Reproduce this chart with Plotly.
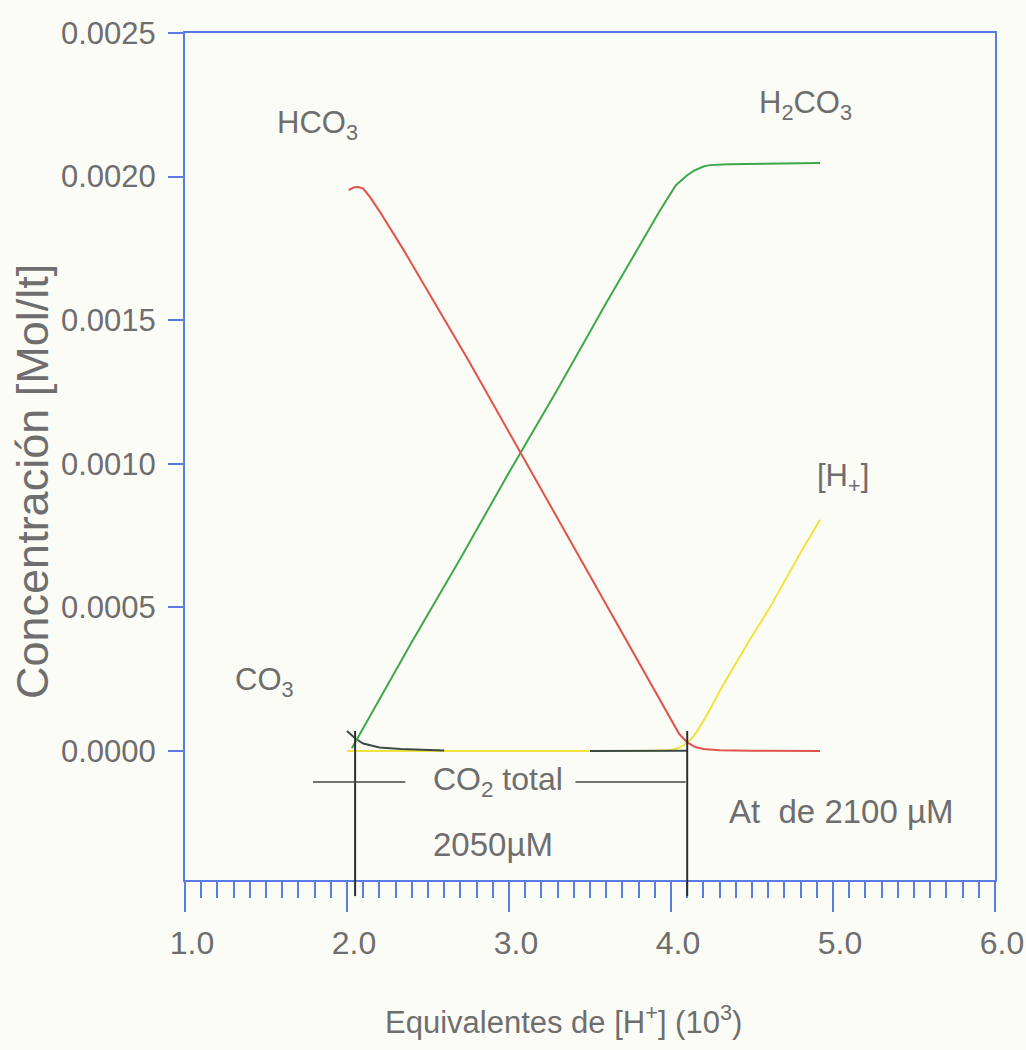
import plotly.graph_objects as go

# ---- data ----
hco3_x = [2.01, 2.04, 2.07, 2.10, 2.14, 2.20, 2.35, 2.50, 2.75, 3.00, 3.25, 3.50, 3.75, 3.95, 4.05, 4.10, 4.15, 4.20, 4.30, 4.50, 4.92]
hco3_y = [0.001953, 0.001962, 0.001964, 0.001958, 0.00193, 0.00188, 0.001744, 0.0016, 0.00136, 0.00111, 0.00086, 0.00061, 0.00036, 0.00016, 0.00006, 0.00003, 0.000014, 0.000007, 0.000003, 0.000001, 0.0]

h2co3_x = [2.03, 2.06, 2.15, 2.40, 2.70, 3.00, 3.30, 3.60, 3.93, 4.03, 4.10, 4.14, 4.20, 4.24, 4.35, 4.60, 4.92]
h2co3_y = [0.00001, 0.00004, 0.00013, 0.00038, 0.00067, 0.00097, 0.00126, 0.00156, 0.00188, 0.00197, 0.002005, 0.00202, 0.002035, 0.00204, 0.002043, 0.002045, 0.002047]

hplus_x = [2.00, 2.50, 3.00, 3.50, 4.00, 4.05, 4.10, 4.15, 4.20, 4.25, 4.30, 4.40, 4.50, 4.60, 4.70, 4.80, 4.92]
hplus_y = [0.0, 0.0, 0.0, 0.0, 0.000004, 0.000012, 0.00003, 0.00006, 0.000105, 0.000155, 0.000208, 0.000305, 0.0004, 0.00049, 0.00059, 0.00069, 0.000805]

co3_x = [2.00, 2.03, 2.055, 2.10, 2.20, 2.33, 2.45, 2.60, None, 3.50, 3.80, 4.10]
co3_y = [0.00007, 0.000055, 0.000042, 0.000026, 0.000012, 0.000007, 0.000004, 0.000002, None, 0.0, 0.0, 0.000001]

eq_points = [2.05, 4.10]          # CO2 total span (10^3 eq)
x_ticks = [1.0, 2.0, 3.0, 4.0, 5.0, 6.0]
x_ticktext = ["1.0", "2.0", "3.0", "4.0", "5.0", "6.0"]
y_ticks = [0.0, 0.0005, 0.0010, 0.0015, 0.0020, 0.0025]
y_ticktext = ["0.0000", "0.0005", "0.0010", "0.0015", "0.0020", "0.0025"]

# ---- styling ----
BLUE = "#5b7be4"
GRAY = "#6e6e6e"
BG = "#fcfcf7"
FONT = "Liberation Sans, Arial, sans-serif"

fig = go.Figure()
fig.add_trace(go.Scatter(x=hplus_x, y=hplus_y, mode="lines", line=dict(color="#f2e23c", width=2, shape="spline", smoothing=0.6), name="[H+]"))
fig.add_trace(go.Scatter(x=co3_x, y=co3_y, mode="lines", line=dict(color="#3c4a46", width=2), connectgaps=False, name="CO3"))
fig.add_trace(go.Scatter(x=h2co3_x, y=h2co3_y, mode="lines", line=dict(color="#3da84a", width=2), name="H2CO3"))
fig.add_trace(go.Scatter(x=hco3_x, y=hco3_y, mode="lines", line=dict(color="#e0524c", width=2), name="HCO3"))

# dimension lines (vertical markers at equivalence points, horizontal arrows)
for xp in eq_points:
    fig.add_shape(type="line", xref="x", yref="paper", x0=xp, x1=xp, y0=-0.019, y1=0.176,
                  line=dict(color="#2e2e2e", width=2), layer="above")
fig.add_shape(type="line", xref="x", yref="y", x0=1.79, x1=2.36, y0=-0.000108, y1=-0.000108,
              line=dict(color="#444444", width=1.5))
fig.add_shape(type="line", xref="x", yref="y", x0=3.41, x1=4.09, y0=-0.000108, y1=-0.000108,
              line=dict(color="#444444", width=1.5))

def label(text, x, y, size=31):
    fig.add_annotation(x=x, y=y, xref="x", yref="y", text=text, showarrow=False,
                       font=dict(family=FONT, size=size, color=GRAY), xanchor="center", yanchor="middle")

label("HCO<sub>3</sub>", 1.82, 0.00218)
label("H<sub>2</sub>CO<sub>3</sub>", 4.83, 0.00225)
label("[H<sub>+</sub>]", 5.06, 0.00095)
label("CO<sub>3</sub>", 1.49, 0.00024)
label("CO<sub>2</sub> total", 2.93, -0.000105, size=32)
label("2050µM", 2.90, -0.000327, size=33)
label("At  de 2100 µM", 5.05, -0.000212, size=33)

# axis titles as paper annotations for exact placement
fig.add_annotation(x=-0.189, y=0.471, xref="paper", yref="paper", text="Concentración [Mol/lt]",
                   textangle=-90, showarrow=False, xanchor="center", yanchor="middle",
                   font=dict(family=FONT, size=45, color=GRAY))
fig.add_annotation(x=0.467, y=-0.165, xref="paper", yref="paper",
                   text="Equivalentes de [H<sup>+</sup>] (10<sup>3</sup>)",
                   showarrow=False, xanchor="center", yanchor="middle",
                   font=dict(family=FONT, size=31, color=GRAY))

fig.update_layout(
    width=1026, height=1050,
    margin=dict(l=185, r=31, t=33, b=170),
    paper_bgcolor=BG, plot_bgcolor=BG,
    showlegend=False,
    font=dict(family=FONT, color=GRAY),
)
fig.update_xaxes(
    range=[1.0, 6.0], tickvals=x_ticks, ticktext=x_ticktext, automargin=False,
    showgrid=False, zeroline=False,
    showline=True, linecolor=BLUE, linewidth=2, mirror=True,
    ticks="outside", ticklen=30, tickwidth=2, tickcolor=BLUE,
    minor=dict(dtick=0.1, ticks="outside", ticklen=16, tickwidth=1.5, tickcolor=BLUE, showgrid=False),
    tickfont=dict(family=FONT, size=32, color=GRAY),
    ticklabelstandoff=4, ticklabelshift=7, ticklabeloverflow="allow",
)
fig.update_yaxes(
    range=[-0.000449, 0.0025], tickvals=y_ticks, ticktext=y_ticktext, automargin=False,
    showgrid=False, zeroline=False,
    showline=True, linecolor=BLUE, linewidth=2, mirror=True,
    ticks="outside", ticklen=15, tickwidth=2, tickcolor=BLUE,
    tickfont=dict(family=FONT, size=31, color=GRAY),
    ticklabelstandoff=6, ticklabeloverflow="allow",
)

fig.write_html("out.html",
               config={"displayModeBar": False},
               post_script="document.body.style.margin='0';document.body.style.overflow='hidden';document.body.style.background='" + BG + "';")
